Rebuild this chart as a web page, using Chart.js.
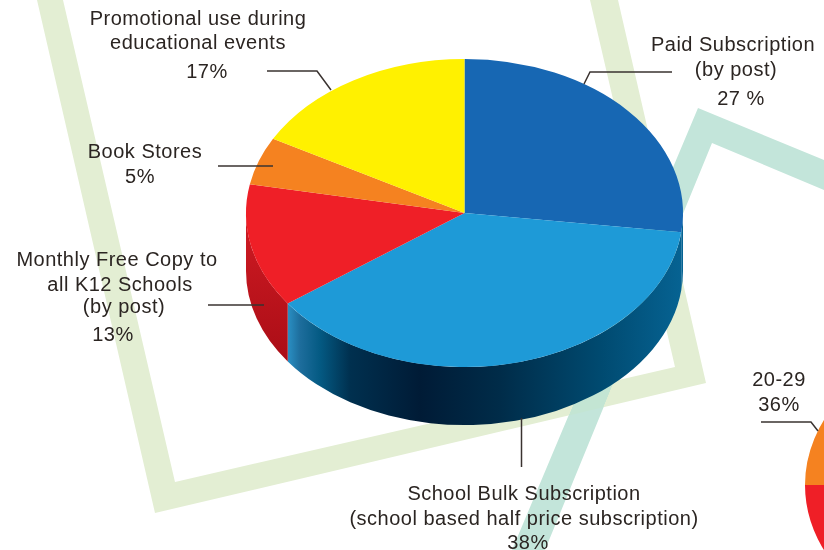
<!DOCTYPE html>
<html>
<head>
<meta charset="utf-8">
<title>Distribution</title>
<script src="https://cdn.jsdelivr.net/npm/chart.js@4"></script>
<style>
  html, body { margin: 0; padding: 0; background: #fff; }
  #page { position: relative; width: 824px; height: 550px; overflow: hidden; background: #fff; }
  #page svg, #page canvas { position: absolute; }
  #mainChart { left: 0; top: 0; }
  #ageChart { left: 804.5px; top: 250px; }
  .lbl {
    position: absolute;
    transform: translateX(-50%);
    white-space: nowrap;
    font-family: "Liberation Sans", Arial, sans-serif;
    font-size: 20px;
    line-height: 24px;
    letter-spacing: 0.5px;
    color: #2b2522;
  }
  .leader { fill: none; stroke: #3a3330; stroke-width: 1.5; }
</style>
</head>
<body>
<div id="page">
  <svg width="824" height="550">
    <path fill="#c3e5da" d="M698 108 L824 160 L824 190 L712 143 L545 550 L512 550 Z"/>
    <path fill="#e3eed3" fill-rule="evenodd" style="mix-blend-mode: darken"
      d="M37 0 L155 513 L706 383 L618 0 Z M63 0 L590 0 L675 367 L175 482 Z"/>
  </svg>
  <canvas id="mainChart" width="824" height="550"></canvas>
  <canvas id="ageChart" width="470" height="470"></canvas>
  <svg width="824" height="550">
    <polyline class="leader" points="267,71 317,71 331,90"/>
    <polyline class="leader" points="218,166 273,166"/>
    <polyline class="leader" points="208,305 264,305"/>
    <polyline class="leader" points="672,72 590,72 584,84"/>
    <polyline class="leader" points="521.5,418 521.5,467"/>
    <polyline class="leader" points="761,422 811,422 818,431"/>
  </svg>
</div>

<script>
// clockwise from 12 o'clock
const categories = [
  "Paid Subscription (by post)",
  "School Bulk Subscription (school based half price subscription)",
  "Monthly Free Copy to all K12 Schools (by post)",
  "Book Stores",
  "Promotional use during educational events"
];
const shares = [27, 38, 13, 5, 17];
const shareLabels = ["27 %", "38%", "13%", "5%", "17%"];
const sliceColors = ["#1767b3", "#1e9ad7", "#ef1f27", "#f58220", "#fff100"];

// second pie, cut off by the page edge, only the 20-29 slice is labelled
const ageCategories = ["20-29", "Other ages"];
const ageShares = [36, 64];
const ageColors = ["#f58220", "#ef1f27"];

// side wall shading of the big pie, fractions of the pie width
const blueWall = [
  [0, "#2f9ad0"], [0.096, "#2a8fc3"], [0.124, "#1d6d9c"], [0.169, "#045a83"],
  [0.238, "#00304f"], [0.398, "#001b36"], [0.581, "#002c49"], [0.81, "#004a70"], [1, "#066393"]
];

const labels = [
  { lines: ["Promotional use during", "educational events"], x: 198, y: 6 },
  { lines: [shareLabels[4]], x: 207, y: 59 },
  { lines: ["Book Stores"], x: 145, y: 139 },
  { lines: [shareLabels[3]], x: 140, y: 164 },
  { lines: ["Monthly Free Copy to"], x: 117, y: 247 },
  { lines: ["all K12 Schools"], x: 120, y: 272 },
  { lines: ["(by post)"], x: 124, y: 294 },
  { lines: [shareLabels[2]], x: 113, y: 322 },
  { lines: ["Paid Subscription"], x: 733, y: 32 },
  { lines: ["(by post)"], x: 736, y: 57 },
  { lines: [shareLabels[0]], x: 741, y: 86 },
  { lines: ["School Bulk Subscription"], x: 524, y: 481 },
  { lines: ["(school based half price subscription)"], x: 524, y: 506 },
  { lines: [shareLabels[1]], x: 528, y: 530 },
  { lines: [ageCategories[0]], x: 779, y: 367 },
  { lines: [ageShares[0] + "%"], x: 779, y: 392 }
];

const page = document.getElementById("page");
labels.forEach(function (l) {
  const div = document.createElement("div");
  div.className = "lbl";
  div.style.left = l.x + "px";
  div.style.top = l.y + "px";
  div.style.textAlign = "center";
  div.innerHTML = l.lines.join("<br>");
  page.appendChild(div);
});

function horizontalGradient(ctx, arc, stops) {
  const g = ctx.createLinearGradient(arc.x - arc.outerRadius, 0, arc.x + arc.outerRadius, 0);
  stops.forEach(s => g.addColorStop(s[0], s[1]));
  return g;
}

function redWall(ctx, arc) {
  const g = ctx.createLinearGradient(0, arc.y, 0, arc.y + arc.outerRadius);
  g.addColorStop(0, "#d01b23");
  g.addColorStop(1, "#a90d16");
  return g;
}

// squashes the flat pie to an ellipse and draws the side wall under it
const tiltPlugin = {
  id: "tilt",
  beforeDatasetsDraw(chart, args, opts) {
    const ctx = chart.ctx;
    const arcs = chart.getDatasetMeta(0).data;
    const cy = arcs[0].y;
    ctx.save();
    ctx.translate(0, opts.centerY);
    ctx.scale(1, opts.squash);
    ctx.translate(0, -cy);

    const depth = opts.depth / opts.squash;
    arcs.forEach(function (arc, i) {
      const p = arc.getProps(["x", "y", "startAngle", "endAngle", "outerRadius"], true);
      const from = Math.max(norm(p.startAngle), 0);
      const to = Math.min(norm(p.startAngle) + (p.endAngle - p.startAngle), Math.PI);
      if (to <= from) return;
      ctx.beginPath();
      ctx.arc(p.x, p.y, p.outerRadius, from, to);
      ctx.arc(p.x, p.y + depth, p.outerRadius, to, from, true);
      ctx.closePath();
      ctx.fillStyle = opts.wall(ctx, p, i);
      ctx.fill();
    });
  },
  afterDatasetsDraw(chart) {
    chart.ctx.restore();
  }
};

// angle moved so the part below the horizontal starts at 0
function norm(a) {
  const t = Math.PI * 2;
  let n = a % t;
  if (n < -Math.PI / 2) n += t;
  return n;
}

const baseOptions = {
  responsive: false,
  animation: false,
  events: []
};

new Chart(document.getElementById("mainChart"), {
  type: "pie",
  plugins: [tiltPlugin],
  data: {
    labels: categories,
    datasets: [{ data: shares, backgroundColor: sliceColors, borderWidth: 0, clip: false }]
  },
  options: {
    ...baseOptions,
    layout: { padding: { left: 246, right: 141, top: 0, bottom: 113 } },
    plugins: {
      legend: { display: false },
      tooltip: { enabled: false },
      tilt: {
        centerY: 213,
        squash: 0.705,
        depth: 58,
        wall: function (ctx, arc, i) {
          return i === 2 ? redWall(ctx, arc) : horizontalGradient(ctx, arc, blueWall);
        }
      }
    }
  }
});

new Chart(document.getElementById("ageChart"), {
  type: "pie",
  plugins: [tiltPlugin],
  data: {
    labels: ageCategories,
    datasets: [{ data: ageShares, backgroundColor: ageColors, borderWidth: 0, clip: false }]
  },
  options: {
    ...baseOptions,
    rotation: 270,
    plugins: {
      legend: { display: false },
      tooltip: { enabled: false },
      tilt: {
        centerY: 235,
        squash: 0.705,
        depth: 58,
        wall: function (ctx, arc) {
          return redWall(ctx, arc);
        }
      }
    }
  }
});
</script>
</body>
</html>
